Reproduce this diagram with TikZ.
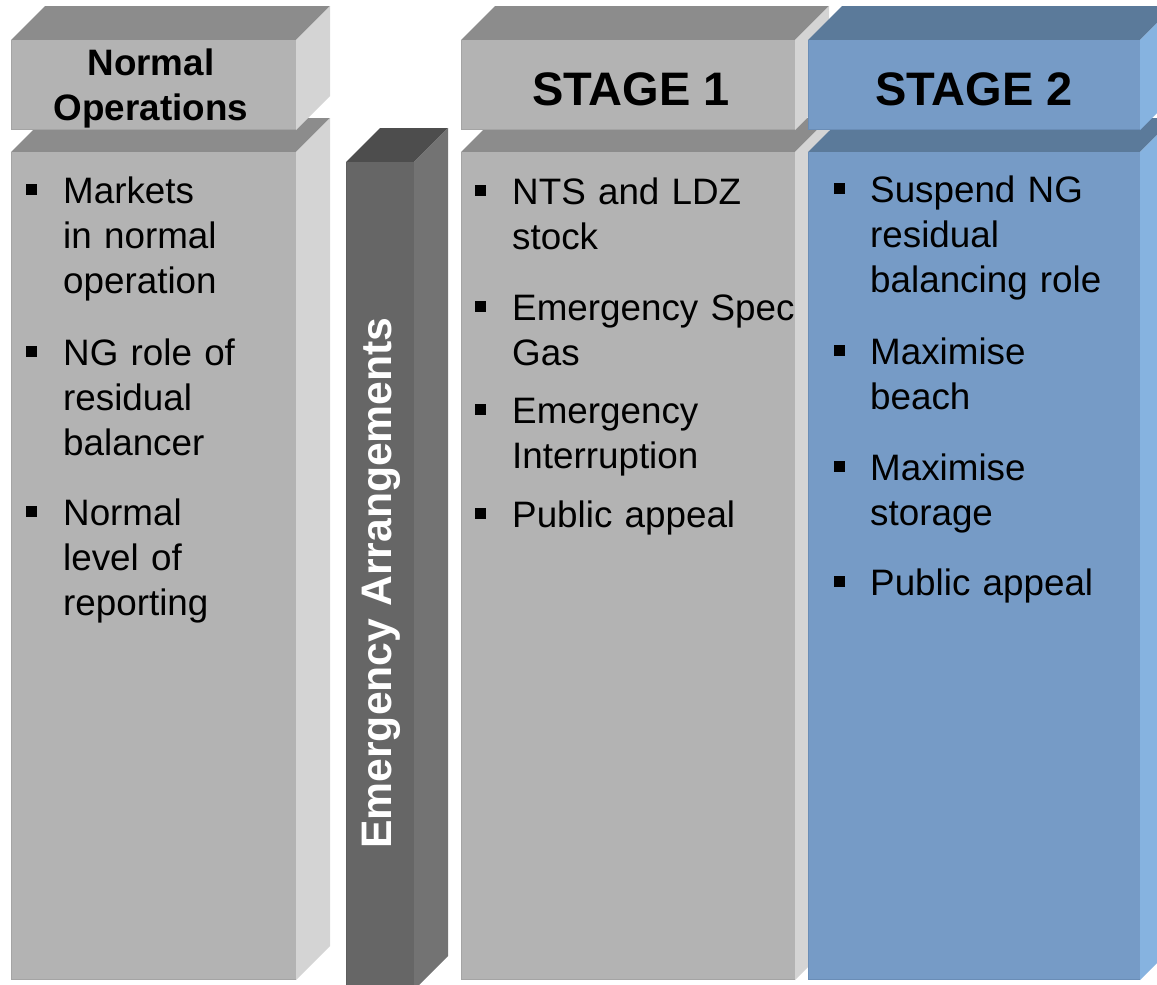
\documentclass[tikz,border=0pt]{standalone}
\usepackage{fontspec}
\setmainfont{Liberation Sans}
\definecolor{gfront}{HTML}{B3B3B3}
\definecolor{gtop}{HTML}{8C8C8C}
\definecolor{gright}{HTML}{D4D4D4}
\definecolor{gedge}{HTML}{A4A4A4}
\definecolor{dfront}{HTML}{666666}
\definecolor{dtop}{HTML}{4D4D4D}
\definecolor{dright}{HTML}{737373}
\definecolor{dedge}{HTML}{5E5E5E}
\definecolor{bfront}{HTML}{769BC6}
\definecolor{btop}{HTML}{5B7A9A}
\definecolor{bright}{HTML}{86B3E0}
\definecolor{bedge}{HTML}{6A8DB6}
\newcommand\boxcube[8]{%
  % #1 x1, #2 y1, #3 x2, #4 y2, #5 front, #6 top, #7 right, #8 edge
  \fill[#6] (#1,#2) -- ({#1+34},{#2-34}) -- ({#3+34},{#2-34}) -- (#3,#2) -- cycle;
  \fill[#7] (#3,#2) -- ({#3+34},{#2-34}) -- ({#3+34},{#4-34}) -- (#3,#4) -- cycle;
  \fill[#5] (#1,#2) rectangle (#3,#4);
  \draw[#8, line width=1.2pt] ({#1+0.6},{#2}) -- ({#1+0.6},{#4-0.6}) -- (#3,{#4-0.6});
}
\tikzset{
  itemtext/.style={anchor=base west, inner sep=0pt, text width=330pt, align=left,
    font=\fontsize{36.8}{45}\selectfont},
  bulletsq/.style={fill=black, minimum size=11pt, inner sep=0pt, draw=none, rectangle},
  hdr/.style={inner sep=0pt, anchor=base, font=\bfseries\fontsize{47}{52}\selectfont},
}
\begin{document}
\begin{tikzpicture}[x=1pt,y=-1pt]
\useasboundingbox (0,0) rectangle (1157,985);
\begin{scope}
\clip (0,0) rectangle (1157,985);
% Normal operations
\boxcube{11}{152}{296}{980}{gfront}{gtop}{gright}{gedge}
\boxcube{11}{40}{296}{130}{gfront}{gtop}{gright}{gedge}
% Emergency
\boxcube{346}{162}{414}{990}{dfront}{dtop}{dright}{dedge}
% Stage 1
\boxcube{461}{152}{795}{980}{gfront}{gtop}{gright}{gedge}
\boxcube{461}{40}{795}{130}{gfront}{gtop}{gright}{gedge}
% Stage 2
\boxcube{808}{152}{1140}{980}{bfront}{btop}{bright}{bedge}
\boxcube{808}{40}{1140}{130}{bfront}{btop}{bright}{bedge}
\end{scope}
% headers
\node[inner sep=0pt, anchor=base, text width=280pt, align=center,
  font=\bfseries\fontsize{36.8}{45}\selectfont] (hnormal) at (151,75) {Normal\\Operations};
\node[hdr] (hs1) at (631,105) {STAGE 1};
\node[hdr] (hs2) at (974,105) {STAGE 2};
% emergency label
\node[inner sep=0pt, anchor=base, rotate=90, text=white,
  font=\bfseries\fontsize{42.7}{48}\selectfont] (emerg) at (391,583) {Emergency Arrangements};
% Normal operations items
\node[bulletsq] (nb1) at (31.5,189) {};
\node[itemtext] (n1) at (63,203) {Markets\\in normal\\operation};
\node[bulletsq] (nb2) at (31.5,351) {};
\node[itemtext] (n2) at (63,365) {NG role of\\residual\\balancer};
\node[bulletsq] (nb3) at (31.5,511) {};
\node[itemtext] (n3) at (63,525) {Normal\\level of\\reporting};
% Stage 1 items
\node[bulletsq] (ab1) at (480.5,190) {};
\node[itemtext] (a1) at (512,204) {NTS and LDZ\\stock};
\node[bulletsq] (ab2) at (480.5,306) {};
\node[itemtext] (a2) at (512,320) {Emergency Spec\\Gas};
\node[bulletsq] (ab3) at (480.5,409) {};
\node[itemtext] (a3) at (512,423) {Emergency\\Interruption};
\node[bulletsq] (ab4) at (480.5,513) {};
\node[itemtext] (a4) at (512,527) {Public appeal};
% Stage 2 items
\node[bulletsq] (bb1) at (839.5,188) {};
\node[itemtext] (b1) at (870,202) {Suspend NG\\residual\\balancing role};
\node[bulletsq] (bb2) at (839.5,350) {};
\node[itemtext] (b2) at (870,364) {Maximise\\beach};
\node[bulletsq] (bb3) at (839.5,466) {};
\node[itemtext] (b3) at (870,480) {Maximise\\storage};
\node[bulletsq] (bb4) at (839.5,581) {};
\node[itemtext] (b4) at (870,595) {Public appeal};
\end{tikzpicture}
\end{document}
